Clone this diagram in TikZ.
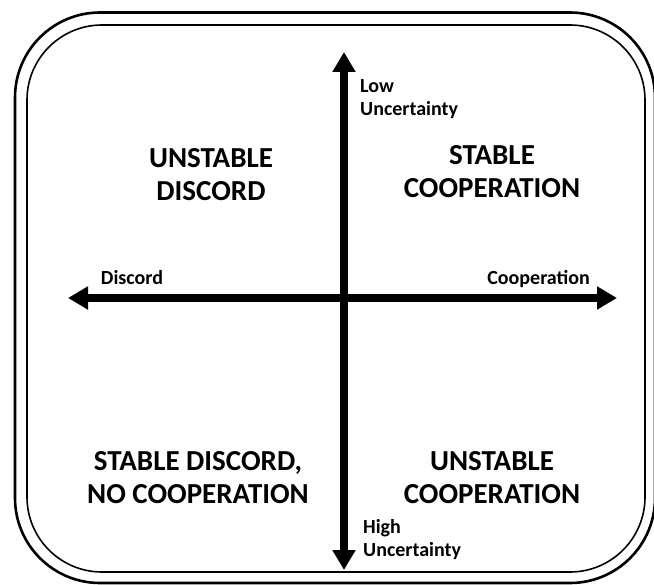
\documentclass[tikz,border=0pt]{standalone}
\usepackage{fontspec}
\setmainfont{Carlito}
\usetikzlibrary{arrows.meta}
\begin{document}
\begin{tikzpicture}[x=1pt,y=-1pt,
  axis/.style={line width=8pt,{Triangle[width=22pt,length=20pt]}-{Triangle[width=22pt,length=20pt]}},
  quad/.style={align=center,inner sep=0pt,font=\fontsize{29}{33}\selectfont\bfseries},
  small/.style={inner sep=0pt,font=\fontsize{20}{23}\selectfont\bfseries},
  frameout/.style={draw,line width=2.6pt,rounded corners=85pt},
  framein/.style={draw,line width=1.6pt,rounded corners=75pt}]
\useasboundingbox (0,0) rectangle (654,585);
\fill[white] (0,0) rectangle (654,585);
\draw[frameout] (15,12.5) rectangle (655,583);
\draw[framein] (27,25) rectangle (645,572);
\coordinate (top) at (344,52);
\coordinate (bot) at (344,570);
\coordinate (lft) at (68,298);
\coordinate (rgt) at (617,298);
\draw[axis] (bot) -- (top);
\draw[axis] (lft) -- (rgt);
\node[quad] (ud) at (211,175) {UNSTABLE\\DISCORD};
\node[quad] (sc) at (492,172) {STABLE\\COOPERATION};
\node[quad] (sd) at (198,478) {STABLE DISCORD,\\NO COOPERATION};
\node[quad] (uc) at (492,478) {UNSTABLE\\COOPERATION};
\node[small,anchor=north west,align=left] (lu) at (360,79) {Low\\Uncertainty};
\node[small,anchor=north west,align=left] (hu) at (363,519) {High\\Uncertainty};
\node[small,anchor=base] (dl) at (132,285) {Discord};
\node[small,anchor=base east] (cl) at (590,285) {Cooperation};
\end{tikzpicture}
\end{document}
